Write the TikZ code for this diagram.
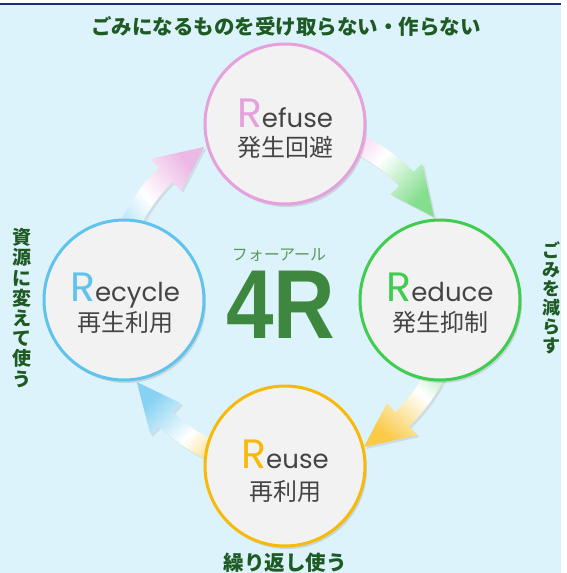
\documentclass[tikz,border=0pt]{standalone}
\usepackage{fontspec}
\setmainfont{Noto Sans CJK JP}
\newfontfamily\latinfont{Poppins}
\newfontfamily\bigfont{Liberation Sans}
\usetikzlibrary{shadows, positioning}
\definecolor{bgblue}{RGB}{221,243,251}
\definecolor{navy}{RGB}{25,50,110}
\definecolor{capgreen}{RGB}{30,90,35}
\definecolor{fourgreen}{RGB}{62,135,62}
\definecolor{cfill}{RGB}{242,242,242}
\definecolor{txtgray}{RGB}{68,68,68}
\definecolor{pinkR}{RGB}{230,160,220}
\definecolor{greenR}{RGB}{64,204,80}
\definecolor{yellowR}{RGB}{248,185,10}
\definecolor{blueR}{RGB}{95,195,238}
\tikzset{
  ring/.style={circle, minimum size=160pt, inner sep=0pt, fill=cfill,
    draw=#1, line width=3pt,
    drop shadow={opacity=0.25, shadow xshift=2pt, shadow yshift=-3pt}},
  engword/.style={anchor=base, inner sep=0pt, text depth=0pt, text=txtgray,
    font=\latinfont\fontsize{26}{26}\selectfont},
  jpword/.style={anchor=base, inner sep=0pt, text depth=0pt, text=txtgray,
    font=\fontsize{24}{24}\selectfont},
  caption/.style={inner sep=0pt, text=capgreen, font=\bfseries\fontsize{20.5}{20.5}\selectfont},
  vcaption/.style={inner sep=0pt, text=capgreen, align=center},
  arrowshade/.style={drop shadow={opacity=0.18, shadow xshift=2pt, shadow yshift=-2pt}}
}
\newcommand{\bigR}[1]{{\color{#1}\fontsize{41}{41}\selectfont R}}
% #1 start, #2 head base, #3 tip (angles), #4 from, #5 to, #6 shading angle
\newcommand{\cyclearrow}[6]{%
  \shade[arrowshade, left color=#4, right color=#5, middle color=white, shading angle=#6]
    (#1:180) arc[start angle=#1, end angle=#2, radius=180] -- (#2:192) -- (#3:170)
    -- (#2:148) -- (#2:160) arc[start angle=#2, end angle=#1, radius=160] -- cycle;
}

\begin{document}
\begin{tikzpicture}[x=1pt, y=-1pt]
  \useasboundingbox (0,0) rectangle (566,573);
  % Background
  \fill[white] (0,0) rectangle (566,573);
  \fill[bgblue] (0,5) rectangle (561,573);
  \draw[navy, line width=2.5pt] (0,4) -- (561,4);

  % Arrows round the hub
  \coordinate (hub) at (284,297);
  \begin{scope}[shift={(hub)}]
    \cyclearrow{-80}{-44}{-28}{pinkR!75}{greenR!65}{48}
    \cyclearrow{10}{46}{62}{greenR!65}{yellowR!75}{-41}
    \cyclearrow{100}{134}{150}{yellowR!80}{blueR!75}{225}
    \cyclearrow{190}{226}{242}{blueR!70}{pinkR!75}{129}
  \end{scope}

  % Circles
  \node[ring=pinkR] (refuse) at (285,124) {};
  \node[ring=greenR] (reduce) at (440,300) {};
  \node[ring=yellowR] (reuse) at (285,466) {};
  \node[ring=blueR] (recycle) at (124,300) {};

  \node[engword] (refuseen) at (285,127) {\bigR{pinkR}efuse};
  \node[jpword] (refusejp) at (285,156) {発生回避};
  \node[engword] (reduceen) at (440,301) {\bigR{greenR}educe};
  \node[jpword] (reducejp) at (440,331) {発生抑制};
  \node[engword] (reuseen) at (285,468) {\bigR{yellowR}euse};
  \node[jpword] (reusejp) at (285,500) {再利用};
  \node[engword] (recycleen) at (125,301) {\bigR{blueR}ecycle};
  \node[jpword] (recyclejp) at (125,331) {再生利用};

  % Centre mark
  \node[inner sep=0pt, text=fourgreen!85, font=\fontsize{16}{16}\selectfont] (fourkana) at (279,255) {フォーアール};
  \node[inner sep=0pt, text=fourgreen, font=\bigfont\bfseries\fontsize{98}{98}\selectfont] (fourR) at (281,305) {\scalebox{0.87}[1]{4R}};

  % Captions
  \node[caption] (title) at (286,27) {ごみになるものを受け取らない・作らない};
  \node[vcaption, font=\bfseries\fontsize{19}{20.2}\selectfont] (leftcap) at (22,308) {資\\源\\に\\変\\え\\て\\使\\う};
  \node[vcaption, font=\bfseries\fontsize{18}{19}\selectfont] (rightcap) at (551,298) {ご\\み\\を\\減\\ら\\す};
  \node[caption] (bottomcap) at (285,563) {繰り返し使う};
\end{tikzpicture}
\end{document}
